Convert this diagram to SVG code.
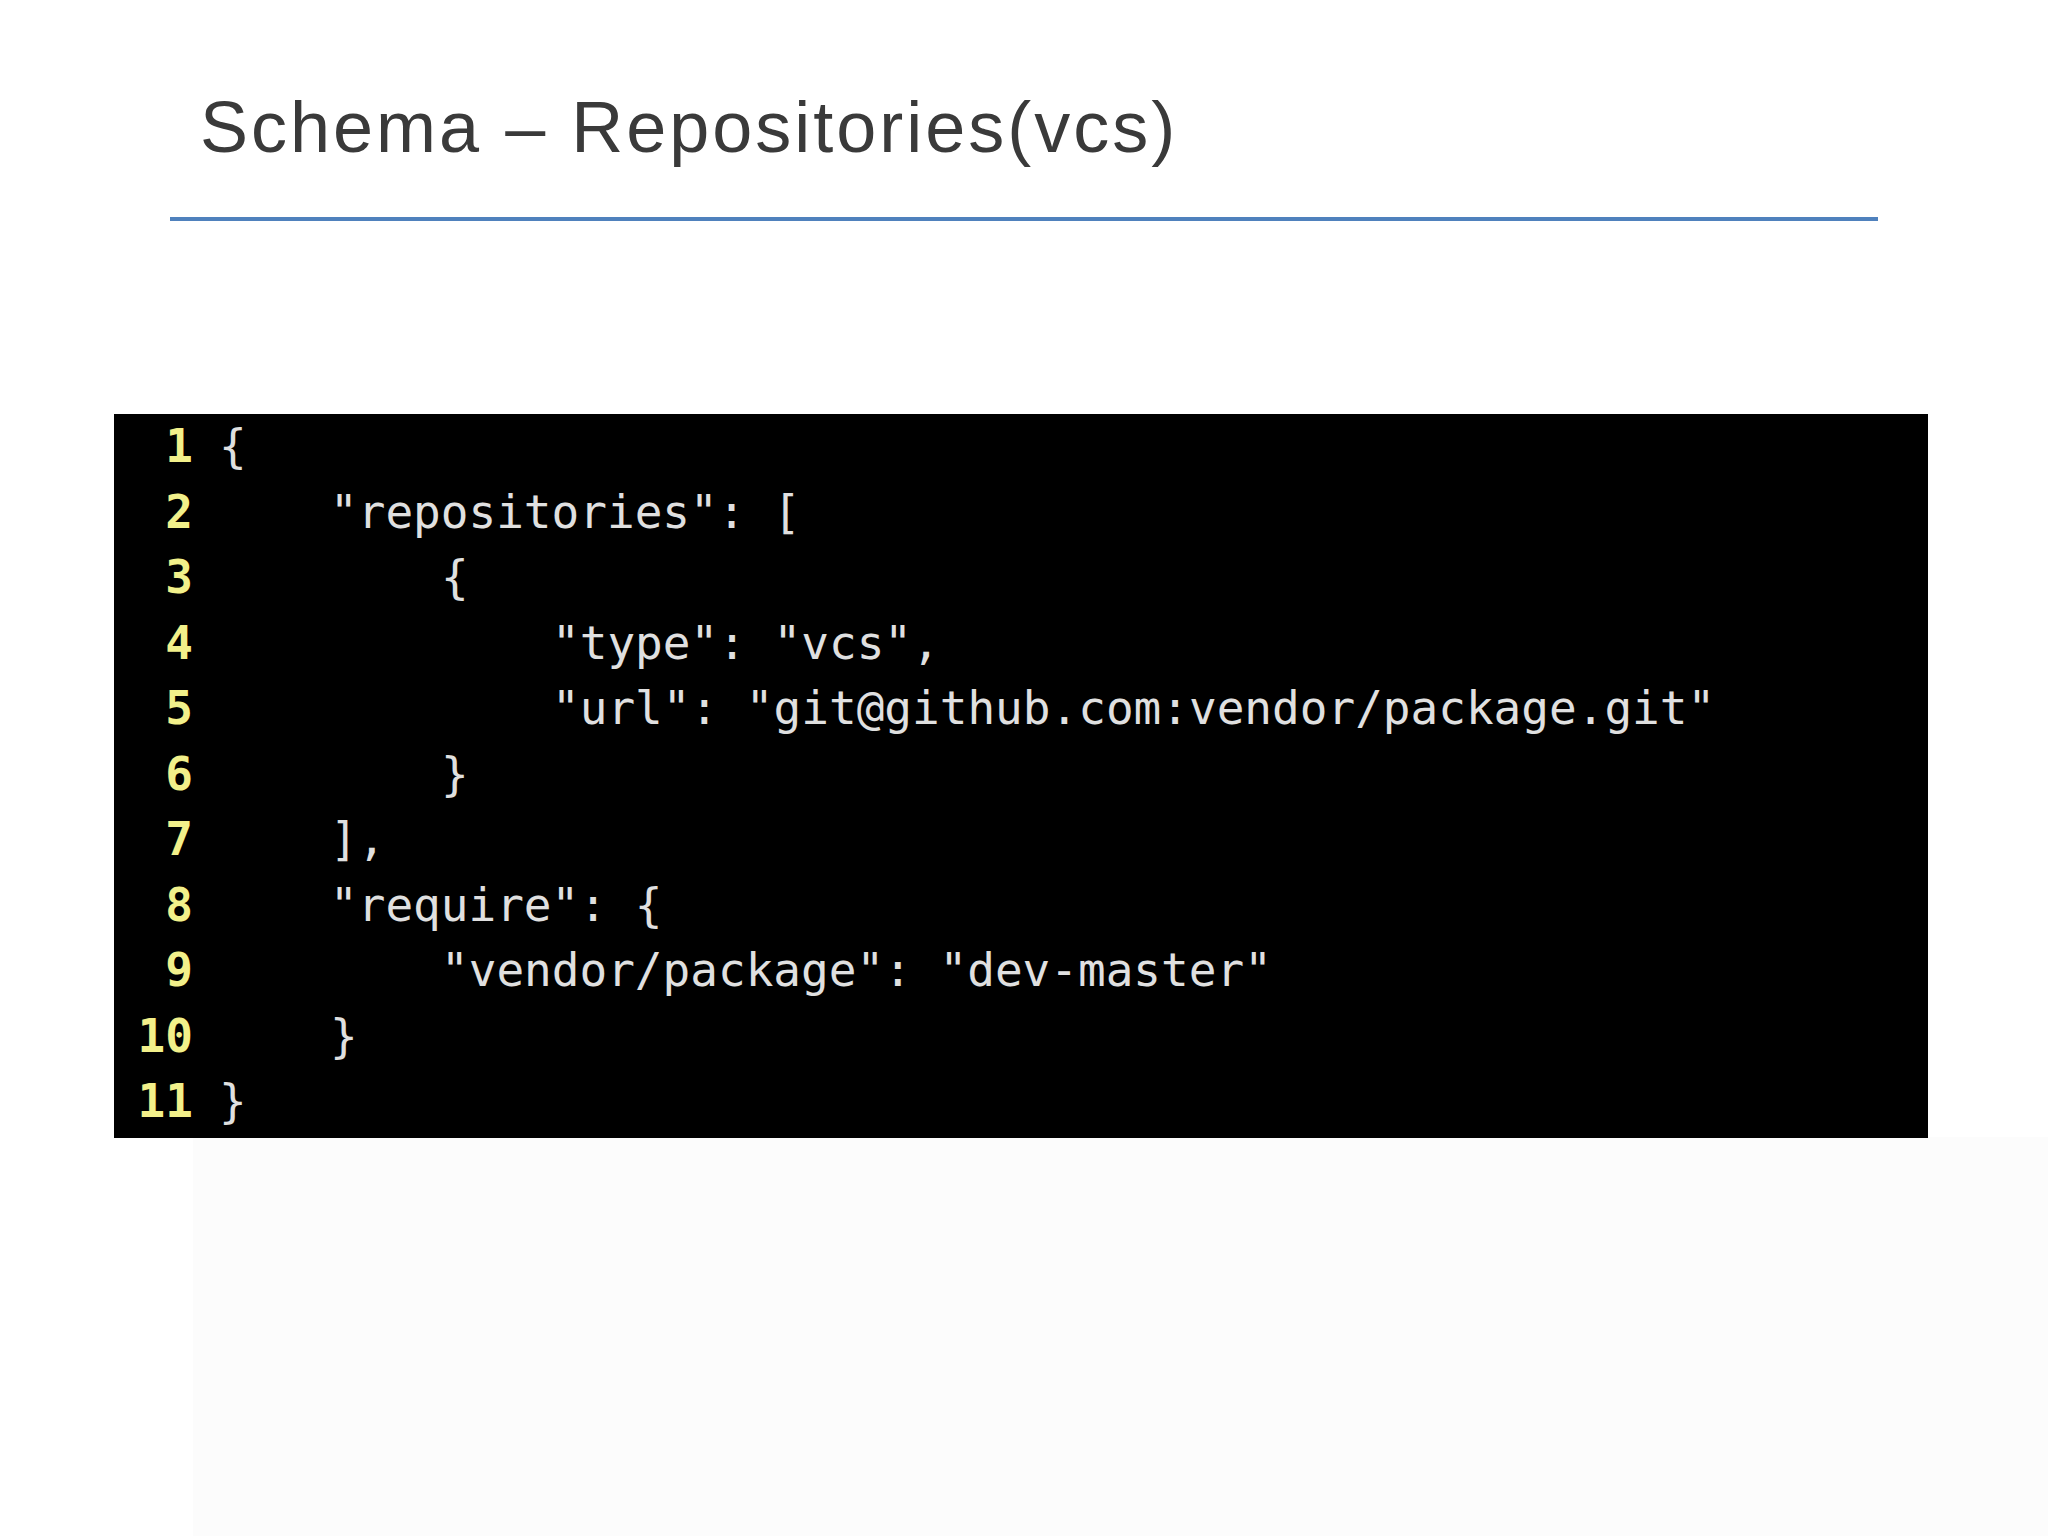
<svg xmlns="http://www.w3.org/2000/svg" width="2048" height="1536" viewBox="0 0 2048 1536">
<style>
.t{font-family:"Liberation Sans",Arial,sans-serif;font-size:72px;fill:#3a3a3a;letter-spacing:3px}
.n{font-family:"DejaVu Sans Mono",monospace;font-size:46px;fill:#f2f08a;font-weight:bold;text-anchor:end}
.c{font-family:"DejaVu Sans Mono",monospace;font-size:46px;fill:#e0e0e0}
</style>
<rect width="2048" height="1536" fill="#fff"/>
<rect x="193" y="1137" width="1855" height="399" fill="#fcfcfc"/>
<g id="title"><text class="t" x="200" y="152">Schema – Repositories(vcs)</text></g>
<line x1="170" y1="219" x2="1878" y2="219" stroke="#4f81bd" stroke-width="4"/>
<g id="code">
<rect x="114" y="414" width="1814" height="724" fill="#000"/>
<g>
<text class="n" x="193" y="462">1</text>
<text class="n" x="193" y="528">2</text>
<text class="n" x="193" y="593">3</text>
<text class="n" x="193" y="659">4</text>
<text class="n" x="193" y="724">5</text>
<text class="n" x="193" y="790">6</text>
<text class="n" x="193" y="855">7</text>
<text class="n" x="193" y="921">8</text>
<text class="n" x="193" y="986">9</text>
<text class="n" x="193" y="1052">10</text>
<text class="n" x="193" y="1117">11</text>
</g>
<g>
<text class="c" x="219" y="462">{</text>
<text class="c" x="330" y="528">"repositories": [</text>
<text class="c" x="441" y="593">{</text>
<text class="c" x="552" y="659">"type": "vcs",</text>
<text class="c" x="552" y="724">"url": "git@github.com:vendor/package.git"</text>
<text class="c" x="441" y="790">}</text>
<text class="c" x="330" y="855">],</text>
<text class="c" x="330" y="921">"require": {</text>
<text class="c" x="441" y="986">"vendor/package": "dev-master"</text>
<text class="c" x="330" y="1052">}</text>
<text class="c" x="219" y="1117">}</text>
</g>
</g>
</svg>
